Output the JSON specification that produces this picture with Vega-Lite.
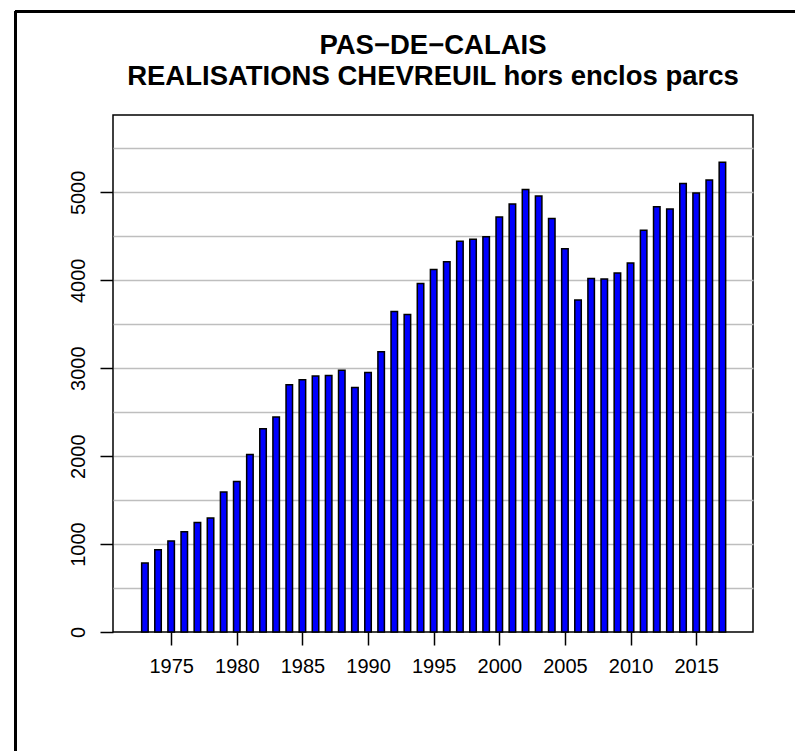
{
  "$schema": "https://vega.github.io/schema/vega-lite/v6.json",
  "autosize": {"type": "none"},
  "width": 640,
  "height": 517,
  "padding": {"left": 113, "top": 115, "right": 42, "bottom": 119},
  "background": "white",
  "config": {
    "view": {"stroke": "black", "strokeWidth": 1.5},
    "font": "Liberation Sans"
  },
  "title": {
    "text": ["PAS−DE−CALAIS", "REALISATIONS CHEVREUIL hors enclos parcs"],
    "font": "Liberation Sans",
    "fontSize": 27.5,
    "fontWeight": "bold",
    "color": "black",
    "anchor": "middle",
    "frame": "group",
    "baseline": "bottom",
    "lineHeight": 31,
    "offset": -108
  },
  "data": {
    "values": [
      {"annee": 1973, "realisations": 784},
      {"annee": 1974, "realisations": 936},
      {"annee": 1975, "realisations": 1036},
      {"annee": 1976, "realisations": 1140},
      {"annee": 1977, "realisations": 1244},
      {"annee": 1978, "realisations": 1296},
      {"annee": 1979, "realisations": 1592},
      {"annee": 1980, "realisations": 1712},
      {"annee": 1981, "realisations": 2020},
      {"annee": 1982, "realisations": 2312},
      {"annee": 1983, "realisations": 2444},
      {"annee": 1984, "realisations": 2812},
      {"annee": 1985, "realisations": 2868},
      {"annee": 1986, "realisations": 2912},
      {"annee": 1987, "realisations": 2916},
      {"annee": 1988, "realisations": 2976},
      {"annee": 1989, "realisations": 2780},
      {"annee": 1990, "realisations": 2952},
      {"annee": 1991, "realisations": 3188},
      {"annee": 1992, "realisations": 3644},
      {"annee": 1993, "realisations": 3612},
      {"annee": 1994, "realisations": 3964},
      {"annee": 1995, "realisations": 4122},
      {"annee": 1996, "realisations": 4212},
      {"annee": 1997, "realisations": 4444},
      {"annee": 1998, "realisations": 4468},
      {"annee": 1999, "realisations": 4496},
      {"annee": 2000, "realisations": 4720},
      {"annee": 2001, "realisations": 4868},
      {"annee": 2002, "realisations": 5032},
      {"annee": 2003, "realisations": 4960},
      {"annee": 2004, "realisations": 4704},
      {"annee": 2005, "realisations": 4360},
      {"annee": 2006, "realisations": 3776},
      {"annee": 2007, "realisations": 4020},
      {"annee": 2008, "realisations": 4016},
      {"annee": 2009, "realisations": 4084},
      {"annee": 2010, "realisations": 4196},
      {"annee": 2011, "realisations": 4568},
      {"annee": 2012, "realisations": 4836},
      {"annee": 2013, "realisations": 4812},
      {"annee": 2014, "realisations": 5100},
      {"annee": 2015, "realisations": 4992},
      {"annee": 2016, "realisations": 5140},
      {"annee": 2017, "realisations": 5344}
    ]
  },
  "layer": [
    {
      "mark": {"type": "bar", "size": 6.5, "fill": "#0000FF", "stroke": "black", "strokeWidth": 1.5},
      "encoding": {
        "x": {
          "field": "annee",
          "type": "quantitative",
          "scale": {"domain": [1970.95, 2018.95], "nice": false, "zero": false},
          "axis": {
            "title": null,
            "values": [1975, 1980, 1985, 1990, 1995, 2000, 2005, 2010, 2015],
            "format": "d",
            "domain": false,
            "grid": false,
            "ticks": true,
            "tickSize": 13,
            "tickWidth": 1.5,
            "tickColor": "black",
            "labelFont": "Liberation Sans",
            "labelFontSize": 20,
            "labelColor": "black",
            "labelPadding": 11,
            "labelBaseline": "top",
            "labelFlush": false,
            "labelOverlap": false
          }
        },
        "y": {
          "field": "realisations",
          "type": "quantitative",
          "scale": {"domain": [0, 5880], "nice": false, "zero": true},
          "axis": {
            "title": null,
            "values": [0, 500, 1000, 1500, 2000, 2500, 3000, 3500, 4000, 4500, 5000, 5500],
            "labelExpr": "datum.value % 1000 === 0 ? format(datum.value, 'd') : ''",
            "domain": false,
            "grid": true,
            "gridColor": {"condition": {"test": "datum.value === 0", "value": "transparent"}, "value": "#bebebe"},
            "gridWidth": 1.5,
            "ticks": true,
            "tickSize": 13,
            "tickWidth": 1.5,
            "tickColor": {"condition": {"test": "datum.value % 1000 === 0", "value": "black"}, "value": "transparent"},
            "labelAngle": 270,
            "labelAlign": "center",
            "labelBaseline": "alphabetic",
            "labelPadding": 16,
            "labelFont": "Liberation Sans",
            "labelFontSize": 20,
            "labelColor": "black",
            "labelFlush": false,
            "labelOverlap": false
          }
        }
      }
    },
    {
      "mark": {"type": "rule", "stroke": "black", "strokeWidth": 1.5, "clip": false},
      "encoding": {
        "x": {"datum": 1963.15, "type": "quantitative"},
        "x2": {"datum": 2030},
        "y": {"datum": 7057, "type": "quantitative"}
      }
    },
    {
      "mark": {"type": "rule", "stroke": "black", "strokeWidth": 1.5, "clip": false},
      "encoding": {
        "x": {"datum": 1963.15, "type": "quantitative"},
        "y": {"datum": 7057, "type": "quantitative"},
        "y2": {"datum": -2000}
      }
    }
  ]
}
